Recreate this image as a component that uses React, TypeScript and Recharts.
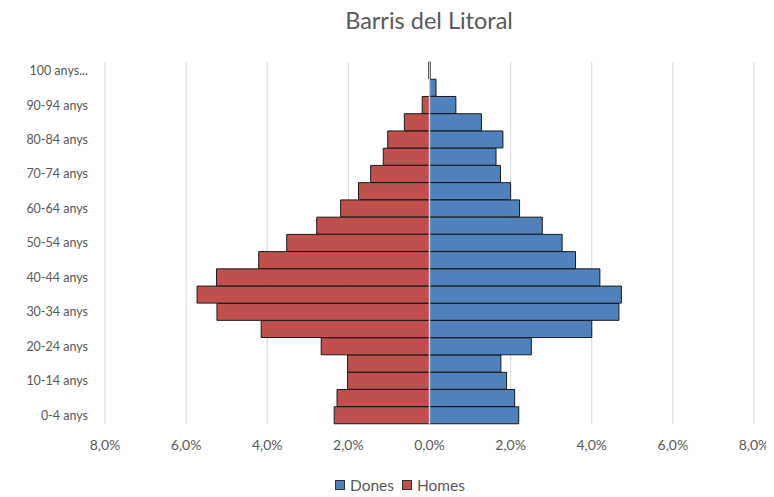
import { BarChart, Bar, XAxis, YAxis, CartesianGrid, Legend, ReferenceLine } from 'recharts';

const ageGroups = [
  '0-4 anys', '5-9 anys', '10-14 anys', '15-19 anys', '20-24 anys', '25-29 anys',
  '30-34 anys', '35-39 anys', '40-44 anys', '45-49 anys', '50-54 anys', '55-59 anys',
  '60-64 anys', '65-69 anys', '70-74 anys', '75-79 anys', '80-84 anys', '85-89 anys',
  '90-94 anys', '95-99 anys', '100 anys...',
];

// percentages, homes drawn to the left
const homes = [
  2.35, 2.28, 2.02, 2.02, 2.67, 4.15, 5.24, 5.73, 5.25, 4.21, 3.52, 2.78,
  2.19, 1.75, 1.45, 1.14, 1.03, 0.62, 0.18, 0.0, 0.02,
];
const dones = [
  2.2, 2.1, 1.9, 1.76, 2.51, 4.0, 4.67, 4.73, 4.2, 3.6, 3.27, 2.78,
  2.22, 2.0, 1.75, 1.64, 1.81, 1.28, 0.65, 0.16, 0.02,
];

const xTicks = [-8, -6, -4, -2, 0, 2, 4, 6, 8];

const BLUE = '#4F81BD';
const RED = '#C0504D';
const TEXT = '#595959';
const FONT = 'Lato, "Open Sans", sans-serif';

const data = ageGroups.map((age, i) => ({
  age,
  Homes: -homes[i],
  Dones: dones[i],
}));

const fmtPct = (v: number) => Math.abs(v).toFixed(1).replace('.', ',') + '%';

function LegendContent() {
  const items = [
    { name: 'Dones', color: BLUE },
    { name: 'Homes', color: RED },
  ];
  return (
    <div style={{ display: 'flex', justifyContent: 'center', gap: 8, paddingLeft: 18, fontFamily: FONT, fontSize: 15.5, color: TEXT }}>
      {items.map((it) => (
        <div key={it.name} style={{ display: 'flex', alignItems: 'center', gap: 5 }}>
          <span style={{ width: 8, height: 8, background: it.color, border: '1px solid #333', display: 'inline-block' }} />
          <span>{it.name}</span>
        </div>
      ))}
    </div>
  );
}

export default function App() {
  return (
    <div style={{ position: 'relative', width: 766, height: 489, fontFamily: FONT }}>
      <div style={{ position: 'absolute', top: -1, left: 0, width: 766, textAlign: 'center', paddingLeft: 76, boxSizing: 'border-box', fontSize: 23.5, color: TEXT, lineHeight: '26px' }}>
        Barris del Litoral
      </div>
      <BarChart
        width={766}
        height={489}
        data={data}
        layout="vertical"
        stackOffset="sign"
        barCategoryGap={0}
        margin={{ top: 54, right: 20, bottom: 25, left: 0 }}
      >
        <CartesianGrid horizontal={false} stroke="#d9d9d9" />
        <XAxis
          type="number"
          domain={[-8, 8]}
          ticks={xTicks}
          tickFormatter={fmtPct}
          axisLine={false}
          tickLine={false}
          tick={{ fill: TEXT, fontSize: 14 }}
          tickMargin={10}
          height={30}
        />
        <YAxis
          type="category"
          dataKey="age"
          reversed
          interval={1}
          width={97}
          axisLine={false}
          tickLine={false}
          tick={{ fill: TEXT, fontSize: 12.5 }}
          tickMargin={11}
        />
        <Legend content={<LegendContent />} wrapperStyle={{ position: 'absolute', top: 468, left: 0, width: 766 }} />
        <Bar dataKey="Dones" stackId="p" fill={BLUE} stroke="#1a1a1a" strokeWidth={1} isAnimationActive={false} />
        <Bar dataKey="Homes" stackId="p" fill={RED} stroke="#1a1a1a" strokeWidth={1} isAnimationActive={false} />
        <ReferenceLine x={0} stroke="#d0d0d0" strokeWidth={1.5} />
      </BarChart>
    </div>
  );
}
